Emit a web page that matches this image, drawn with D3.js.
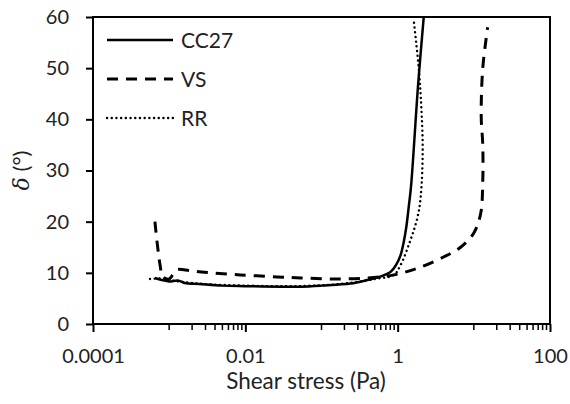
<!DOCTYPE html>
<html>
<head>
<meta charset="utf-8">
<script src="https://cdn.jsdelivr.net/npm/d3@7"></script>
<style>
  html, body { margin: 0; padding: 0; background: #fff; }
  svg { display: block; font-family: Lato, "Open Sans", sans-serif; }
</style>
</head>
<body>
<svg id="chart" width="570" height="404"></svg>
<script>
// Phase angle vs shear stress for three samples
const seriesNames = ["CC27", "VS", "RR"];

const cc27Stress = [0.00065, 0.0008, 0.001, 0.0013, 0.0016, 0.0025, 0.005, 0.01, 0.03, 0.053, 0.1, 0.24, 0.40, 0.6, 0.81, 0.95, 1.09, 1.2, 1.3, 1.4, 1.5, 1.86, 2.2];
const cc27Delta  = [9.0, 8.6, 8.3, 8.5, 8.0, 7.8, 7.5, 7.4, 7.3, 7.3, 7.5, 7.9, 8.6, 9.3, 10.2, 11.5, 13.4, 16, 19, 23, 27, 47, 60];

const vsStress = [0.00065, 0.00076, 0.00083, 0.001, 0.0011, 0.00127, 0.0019, 0.0035, 0.0086, 0.026, 0.053, 0.144, 0.40, 0.89, 1.83, 4.0, 6.7, 10, 12.3, 13.1, 13.1, 12.5, 13.1, 15.2];
const vsDelta  = [20, 11.5, 9.2, 8.8, 9.5, 10.6, 10.4, 10.0, 9.6, 9.2, 9.0, 8.8, 9.0, 9.6, 10.9, 13.1, 15, 17.8, 21.6, 28, 35, 40.5, 50, 58];

const rrStress = [0.00056, 0.0008, 0.001, 0.0015, 0.003, 0.01, 0.05, 0.2, 0.5, 0.89, 1.09, 1.48, 1.83, 2.01, 2.13, 2.05, 1.89, 1.62];
const rrDelta  = [8.8, 8.9, 8.6, 8.2, 7.8, 7.5, 7.4, 7.9, 8.8, 9.6, 11.5, 16.5, 21, 25, 34, 42, 50, 59.5];

const xTickValues = [0.0001, 0.01, 1, 100];
const xTickLabels = ["0.0001", "0.01", "1", "100"];
const yTickValues = [0, 10, 20, 30, 40, 50, 60];

const xTitle = "Shear stress (Pa)";

const svg = d3.select("#chart");
const plotL = 93, plotR = 550, plotT = 17, plotB = 324;

const x = d3.scaleLog().domain([0.0001, 100]).range([plotL, plotR]);
const y = d3.scaleLinear().domain([0, 60]).range([plotB, plotT]);

const series = [
  { name: seriesNames[0], xs: cc27Stress, ys: cc27Delta, width: 2.5, dash: null, cap: "butt" },
  { name: seriesNames[1], xs: vsStress, ys: vsDelta, width: 3, dash: "11,8", cap: "butt" },
  { name: seriesNames[2], xs: rrStress, ys: rrDelta, width: 2.4, dash: "0.1,4.6", cap: "round" }
];

svg.append("defs").append("clipPath").attr("id", "plotClip")
  .append("rect").attr("x", plotL).attr("y", plotT).attr("width", plotR - plotL).attr("height", plotB - plotT);

// minor ticks: 1..9 times the decade that follows each labelled power
const minorTicks = [];
[0.001, 0.1, 10].forEach(b => { for (let j = 1; j <= 9; j++) minorTicks.push(b * j); });

const gx = svg.append("g").attr("transform", `translate(0,${plotB})`);
gx.selectAll("line.minor").data(minorTicks).join("line")
  .attr("class", "minor")
  .attr("x1", d => x(d)).attr("x2", d => x(d))
  .attr("y1", 0).attr("y2", 6)
  .attr("stroke", "#000").attr("stroke-width", 1.5);

const xAxis = d3.axisBottom(x).tickValues(xTickValues)
  .tickFormat((d, i) => xTickLabels[i]).tickSize(8).tickPadding(17);
gx.append("g").call(xAxis).call(g => {
  g.select(".domain").remove();
  g.selectAll(".tick line").attr("stroke", "#000").attr("stroke-width", 2);
  g.selectAll(".tick text").attr("font-size", 20).attr("fill", "#222").attr("font-family", "Lato");
});

const yAxis = d3.axisLeft(y).tickValues(yTickValues).tickSize(7).tickPadding(17);
svg.append("g").attr("transform", `translate(${plotL},0)`).call(yAxis).call(g => {
  g.select(".domain").remove();
  g.selectAll(".tick line").attr("stroke", "#000").attr("stroke-width", 2);
  g.selectAll(".tick text").attr("font-size", 20).attr("fill", "#222").attr("font-family", "Lato");
});

// frame
svg.append("rect").attr("x", plotL).attr("y", plotT).attr("width", plotR - plotL).attr("height", plotB - plotT)
  .attr("fill", "none").attr("stroke", "#000").attr("stroke-width", 2);

const line = d3.line().x(d => x(d[0])).y(d => y(d[1])).curve(d3.curveCatmullRom.alpha(0.5));

svg.append("g").attr("clip-path", "url(#plotClip)")
  .selectAll("path").data(series).join("path")
  .attr("d", s => line(s.xs.map((v, i) => [v, s.ys[i]])))
  .attr("fill", "none").attr("stroke", "#000")
  .attr("stroke-width", s => s.width)
  .attr("stroke-dasharray", s => s.dash)
  .attr("stroke-linecap", s => s.cap)
  .attr("stroke-linejoin", "round");

// legend
const leg = svg.append("g");
const legRows = leg.selectAll("g").data(series).join("g")
  .attr("transform", (s, i) => `translate(107,${40 + i * 39})`);
legRows.append("line").attr("x1", 0).attr("x2", 66).attr("y1", 0).attr("y2", 0)
  .attr("stroke", "#000")
  .attr("stroke-width", s => s.width)
  .attr("stroke-dasharray", s => s.dash)
  .attr("stroke-linecap", s => s.cap);
legRows.append("text").attr("x", 74).attr("y", 8).attr("font-size", 21).attr("fill", "#222")
  .text(s => s.name);

// axis titles
svg.append("text").attr("x", 306).attr("y", 389).attr("text-anchor", "middle")
  .attr("font-size", 22.5).attr("fill", "#222").text(xTitle);

const yt = svg.append("text").attr("transform", `translate(29,${(plotT + plotB) / 2}) rotate(-90)`)
  .attr("text-anchor", "middle").attr("font-size", 22).attr("fill", "#222");
yt.append("tspan").attr("font-style", "italic").attr("font-family", "DejaVu Serif").text("δ");
yt.append("tspan").text(" (°)");
</script>
</body>
</html>
